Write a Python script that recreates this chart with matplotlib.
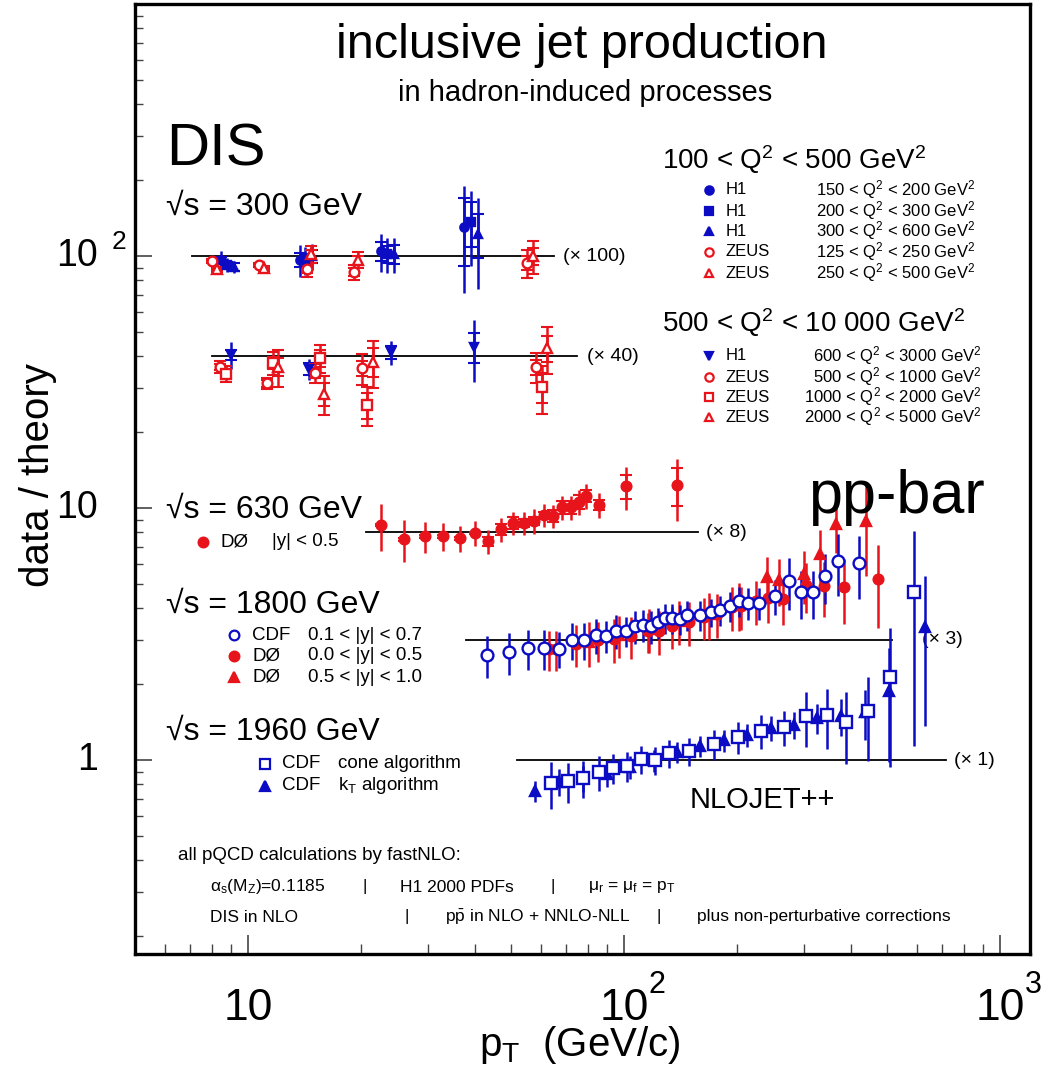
import matplotlib
matplotlib.use("Agg")
import matplotlib.pyplot as plt
from matplotlib.transforms import blended_transform_factory

plt.rcParams['font.family'] = ['Liberation Sans', 'DejaVu Sans']
plt.rcParams['mathtext.fontset'] = 'custom'
plt.rcParams['mathtext.rm'] = 'Liberation Sans'
plt.rcParams['mathtext.it'] = 'Liberation Sans:italic'
plt.rcParams['mathtext.default'] = 'regular'

BLUE = '#0c0cc4'
RED = '#e8141c'

# ---- DIS, sqrt(s) = 300 GeV, 100 < Q2 < 500 (x 100) ----
h1_q150_pt = [8.48, 13.7, 22.6, 37.5]
h1_q150_r = [96.4, 96.4, 104.7, 130.4]
h1_q150_err = [8, 14, 18, 59]
h1_q150_stat = [3, 6, 9, 39]

h1_q200_pt = [8.79, 14.2, 23.4, 39.2]
h1_q200_r = [92.1, 96.4, 101.9, 136.4]
h1_q200_err = [6, 12, 16, 45]
h1_q200_stat = [3, 5, 8, 28]

h1_q300_pt = [9.18, 14.8, 24.4, 40.9]
h1_q300_r = [90.4, 100, 101.9, 122.3]
h1_q300_err = [5, 12, 16, 48]
h1_q300_stat = [3, 6, 9, 24]

zeus_q125_pt = [8.0, 10.7, 14.3, 19.1, 55.2]
zeus_q125_r = [95.6, 92.1, 88.8, 86.4, 93.8]
zeus_q125_err = [2, 2, 6, 6, 12]
zeus_q125_stat = [1, 1, 3, 3, 6]

zeus_q250_pt = [8.27, 11.0, 14.7, 19.6, 57.3]
zeus_q250_r = [88.8, 89.6, 101.9, 96.4, 100]
zeus_q250_err = [2, 2, 8, 7, 15]
zeus_q250_stat = [1, 1, 4, 4, 8]

# ---- DIS, 500 < Q2 < 10000 (x 40) ----
h1_q600_pt = [9.01, 14.5, 24.0, 39.9]
h1_q600_r = [40.5, 35.6, 41.6, 43.5]
h1_q600_err = [5, 3.5, 4.5, 12]
h1_q600_stat = [2, 2, 2.5, 6]

zeus_q500_pt = [8.42, 11.2, 15.1, 20.1, 58.4]
zeus_q500_r = [36.3, 31.3, 34.3, 35.9, 36.3]
zeus_q500_err = [2, 1.5, 3, 5, 5]
zeus_q500_stat = [1, 1, 1.5, 2.5, 2.5]

zeus_q1000_pt = [8.74, 11.65, 15.5, 20.7, 60.5]
zeus_q1000_r = [34.0, 37.6, 39.4, 25.6, 30.2]
zeus_q1000_err = [2.5, 4, 5, 4.5, 6.5]
zeus_q1000_stat = [1.5, 2, 3, 3, 4]

zeus_q2000_pt = [12.0, 15.9, 21.5, 62.4]
zeus_q2000_r = [36.3, 28.3, 38.0, 43.1]
zeus_q2000_err = [6, 5, 8, 9]
zeus_q2000_stat = [3, 3, 5, 5]

# ---- ppbar, sqrt(s) = 630 GeV (x 8) ----
d0_630_pt = [22.6, 26.0, 29.6, 33.0, 36.6, 40.2, 43.5, 47.1, 50.7, 54.2,
             57.6, 61.2, 64.7, 68.4, 72.3, 75.9, 79.2, 85.8, 101.2, 138.4]
d0_630_r = [8.56, 7.53, 7.74, 7.74, 7.60, 7.96, 7.40, 8.25, 8.72, 8.72,
            8.88, 9.38, 9.30, 10.1, 10.1, 10.6, 11.2, 10.3, 12.2, 12.3]
d0_630_err = [1.8, 1.4, 1.1, 1.0, 0.9, 0.9, 0.8, 0.9, 0.9, 0.9,
              1.0, 1.0, 1.0, 1.1, 1.1, 1.2, 1.3, 1.2, 2.4, 3.4]
d0_630_stat = [0.1, 0.1, 0.1, 0.1, 0.1, 0.1, 0.3, 0.4, 0.5, 0.3,
               0.3, 0.3, 0.5, 0.6, 0.6, 0.7, 0.6, 0.5, 1.3, 2.1]

# ---- ppbar, sqrt(s) = 1800 GeV (x 3) ----
cdf_1800_pt = [43.2, 49.4, 55.5, 61.3, 67.2, 72.7, 78.3, 84.2, 89.5, 95.2,
               101.2, 107, 112.3, 118, 123.1, 128.5, 134.2, 141, 147.1, 159.3,
               170.4, 180, 191.4, 202.3, 213.7, 228.6, 252.2, 274.7, 295.6, 318.3,
               342.4, 370.8, 421.7]
cdf_1800_r = [2.61, 2.68, 2.78, 2.78, 2.76, 2.99, 2.99, 3.13, 3.11, 3.25,
              3.25, 3.40, 3.43, 3.40, 3.53, 3.66, 3.66, 3.63, 3.76, 3.76,
              3.87, 3.94, 4.08, 4.28, 4.20, 4.20, 4.48, 5.13, 4.64, 4.64,
              5.37, 6.16, 6.05]
cdf_1800_err = [0.5, 0.5, 0.5, 0.5, 0.45, 0.5, 0.5, 0.5, 0.45, 0.5,
                0.45, 0.5, 0.5, 0.5, 0.5, 0.5, 0.5, 0.5, 0.5, 0.5,
                0.5, 0.55, 0.55, 0.6, 0.6, 0.6, 0.7, 1.2, 1.0, 1.0,
                1.2, 1.7, 1.7]

d0c_1800_pt = [63.2, 65.9, 74.5, 85.3, 94.1, 104.4, 115.8, 123.9, 134.2, 148.9,
               163.2, 176.7, 193.7, 204.7, 224.4, 241.5, 264.8, 304.8, 340.4, 384.6,
               473.7]
d0c_1800_r = [2.76, 2.76, 2.89, 2.99, 3.02, 3.11, 3.25, 3.25, 3.40, 3.53,
              3.69, 3.80, 4.05, 4.08, 4.28, 4.39, 4.35, 4.95, 4.90, 4.86,
              5.23]
d0c_1800_err = [0.5, 0.5, 0.55, 0.55, 0.6, 0.6, 0.6, 0.65, 0.65, 0.7,
                0.7, 0.75, 0.8, 0.8, 0.85, 0.9, 0.9, 1.1, 1.2, 1.4,
                1.9]

d0f_1800_pt = [80.7, 97, 116.6, 140, 168.3, 202.3, 240, 258.3, 301, 332, 366.3, 440]
d0f_1800_r = [2.94, 3.13, 3.31, 3.56, 3.80, 4.16, 5.32, 5.18, 5.47, 6.57, 8.64, 8.88]
d0f_1800_err = [0.6, 0.6, 0.65, 0.7, 0.8, 0.9, 1.1, 1.1, 1.3, 1.6, 2.0, 3.5]

# ---- ppbar, sqrt(s) = 1960 GeV (x 1) ----
cdf_cone_pt = [64.0, 71.0, 77.8, 85.8, 93.5, 101.9, 111, 120.9, 131.8, 148.9,
               173.5, 201.1, 231.4, 266.4, 304.8, 346.7, 389.4, 445.7, 509.8, 590.5]
cdf_cone_r = [0.810, 0.825, 0.848, 0.896, 0.930, 0.947, 1.01, 1.0, 1.066, 1.086,
              1.157, 1.234, 1.304, 1.352, 1.495, 1.509, 1.415, 1.565, 2.135, 4.64]
cdf_cone_err = [0.17, 0.15, 0.14, 0.14, 0.13, 0.13, 0.13, 0.13, 0.14, 0.14,
                0.16, 0.18, 0.2, 0.22, 0.37, 0.4, 0.45, 0.57, 1.2, 3.5]

cdf_kt_pt = [58.0, 67.2, 77.8, 90.1, 103.7, 120.2, 138.4, 159.3, 184.5, 212.4,
             246, 283.2, 326.1, 377.6, 437.5, 506.8, 631.8]
cdf_kt_r = [0.753, 0.818, 0.848, 0.880, 0.938, 1.0, 1.076, 1.137, 1.20, 1.256,
            1.34, 1.377, 1.468, 1.495, 1.55, 1.88, 3.37]
cdf_kt_err = [0.07, 0.1, 0.1, 0.1, 0.1, 0.1, 0.1, 0.11, 0.12, 0.13,
              0.15, 0.17, 0.2, 0.25, 0.35, 0.9, 2.0]

# theory reference lines: scale factor, pT range
ref_scale = [100, 40, 8, 3, 1]
ref_lo = [7.1, 8.0, 20.6, 38, 52]
ref_hi = [65, 75, 157, 516, 718]
ref_text = ['(× 100)', '(× 40)', '(× 8)', '(× 3)', '(× 1)']
ref_gap = [1.06, 1.06, 1.05, 1.2, 1.05]

W, H = 1056, 1075
fig = plt.figure(figsize=(W / 100, H / 100), dpi=100)
ax = fig.add_axes([135 / W, 1 - 954 / H, (1030 - 135) / W, (954 - 4) / H])
ax.set_xscale('log')
ax.set_yscale('log')
ax.set_xlim(5, 1200)
ax.set_ylim(0.17, 1000)


def fx(px):
    return px / W


def fy(py):
    return 1 - py / H


def label(px, py, s, size, **kw):
    fig.text(fx(px), fy(py), s, fontsize=size, va='center', **kw)


def series(x, y, err, color, marker, filled=True, stat=None, ms=7, caps=False):
    ax.errorbar(x, y, yerr=err, fmt='none', ecolor=color, elinewidth=1.8,
                capsize=4 if caps else 0, capthick=1.5, zorder=3)
    if stat is not None:
        ax.errorbar(x, y, yerr=stat, fmt='none', ecolor=color, elinewidth=1.8,
                    capsize=4, capthick=1.5, zorder=3)
    ax.plot(x, y, linestyle='none', marker=marker, ms=ms,
            mfc=color if filled else 'white', mec=color, mew=1.7, zorder=4)


def key(px, py, marker, color, filled, ms=7):
    ax.plot([fx(px)], [fy(py)], transform=fig.transFigure, linestyle='none',
            marker=marker, ms=ms, mfc=color if filled else 'white', mec=color,
            mew=1.6, clip_on=False)


# reference lines
for s, lo, hi, t, g in zip(ref_scale, ref_lo, ref_hi, ref_text, ref_gap):
    ax.plot([lo, hi], [s, s], color='black', lw=1.3, zorder=2)
    ax.text(hi * g, s, t, fontsize=14, va='center', ha='left')

# DIS data
series(h1_q150_pt, h1_q150_r, h1_q150_err, BLUE, 'o', stat=h1_q150_stat, ms=6)
series(h1_q200_pt, h1_q200_r, h1_q200_err, BLUE, 's', stat=h1_q200_stat, ms=6)
series(h1_q300_pt, h1_q300_r, h1_q300_err, BLUE, '^', stat=h1_q300_stat, ms=6)
series(zeus_q125_pt, zeus_q125_r, zeus_q125_err, RED, 'o', filled=False, stat=zeus_q125_stat, ms=7, caps=True)
series(zeus_q250_pt, zeus_q250_r, zeus_q250_err, RED, '^', filled=False, stat=zeus_q250_stat, ms=7, caps=True)
series(h1_q600_pt, h1_q600_r, h1_q600_err, BLUE, 'v', stat=h1_q600_stat, ms=6)
series(zeus_q500_pt, zeus_q500_r, zeus_q500_err, RED, 'o', filled=False, stat=zeus_q500_stat, ms=7, caps=True)
series(zeus_q1000_pt, zeus_q1000_r, zeus_q1000_err, RED, 's', filled=False, stat=zeus_q1000_stat, ms=7, caps=True)
series(zeus_q2000_pt, zeus_q2000_r, zeus_q2000_err, RED, '^', filled=False, stat=zeus_q2000_stat, ms=7, caps=True)

# ppbar data
series(d0_630_pt, d0_630_r, d0_630_err, RED, 'o', stat=d0_630_stat, ms=7)
series(d0f_1800_pt, d0f_1800_r, d0f_1800_err, RED, '^', ms=7)
series(d0c_1800_pt, d0c_1800_r, d0c_1800_err, RED, 'o', ms=7)
series(cdf_1800_pt, cdf_1800_r, cdf_1800_err, BLUE, 'o', filled=False, ms=8.5)
series(cdf_kt_pt, cdf_kt_r, cdf_kt_err, BLUE, '^', ms=7)
series(cdf_cone_pt, cdf_cone_r, cdf_cone_err, BLUE, 's', filled=False, ms=8.5)

# axes styling
for sp in ax.spines.values():
    sp.set_linewidth(2.4)
ax.tick_params(which='both', direction='in', top=False, right=False,
               labelbottom=False, labelleft=False, color='#444444')
ax.tick_params(axis='x', which='major', length=14, width=1.2)
ax.tick_params(axis='x', which='minor', length=7, width=1.0)
ax.tick_params(axis='y', which='major', length=12, width=1.2)
ax.tick_params(axis='y', which='minor', length=6, width=1.0)

bx = blended_transform_factory(ax.transData, ax.transAxes)
by = blended_transform_factory(ax.transAxes, ax.transData)
for v in [10, 100, 1000]:
    ax.text(v, -0.057, '10', transform=bx, fontsize=32, ha='center', va='center')
ax.text(100 * 1.16, -0.033, '2', transform=bx, fontsize=22, ha='left', va='center')
ax.text(1000 * 1.16, -0.033, '3', transform=bx, fontsize=22, ha='left', va='center')
for v, t in [(1, '1'), (10, '10'), (100, '10')]:
    ax.text(-0.041, v, t, transform=by, fontsize=27, ha='right', va='center')
ax.text(-0.026, 114, '2', transform=by, fontsize=19, ha='left', va='center')

label(582, 45, 'inclusive jet production', 35, ha='center')
label(585, 93, 'in hadron-induced processes', 21, ha='center')
label(580, 1045, 'p$_T$  (GeV/c)', 29, ha='center')
fig.text(fx(38), fy(475), 'data / theory', fontsize=29, rotation=90,
         ha='center', va='center')

label(166, 150, 'DIS', 43)
label(808, 497, 'pp-bar', 44)
label(690, 800, 'NLOJET++', 21)

label(166, 207, '√s = 300 GeV', 23)
label(166, 510, '√s = 630 GeV', 23)
label(166, 605, '√s = 1800 GeV', 23)
label(166, 732, '√s = 1960 GeV', 23)

# DIS legend
label(662, 160, '100 < Q$^2$ < 500 GeV$^2$', 20)
dis1 = [('o', BLUE, True, 'H1', '150 < Q$^2$ < 200 GeV$^2$'),
        ('s', BLUE, True, 'H1', '200 < Q$^2$ < 300 GeV$^2$'),
        ('^', BLUE, True, 'H1', '300 < Q$^2$ < 600 GeV$^2$'),
        ('o', RED, False, 'ZEUS', '125 < Q$^2$ < 250 GeV$^2$'),
        ('^', RED, False, 'ZEUS', '250 < Q$^2$ < 500 GeV$^2$')]
for (m, c, f, name, rng), yy in zip(dis1, [190, 211, 231, 252, 273]):
    key(709, yy, m, c, f, ms=6)
    label(726, yy, name, 12)
    label(975, yy, rng, 12, ha='right')

label(662, 323, '500 < Q$^2$ < 10 000 GeV$^2$', 20)
dis2 = [('v', BLUE, True, 'H1', '600 < Q$^2$ < 3000 GeV$^2$'),
        ('o', RED, False, 'ZEUS', '500 < Q$^2$ < 1000 GeV$^2$'),
        ('s', RED, False, 'ZEUS', '1000 < Q$^2$ < 2000 GeV$^2$'),
        ('^', RED, False, 'ZEUS', '2000 < Q$^2$ < 5000 GeV$^2$')]
for (m, c, f, name, rng), yy in zip(dis2, [356, 377, 397, 417]):
    key(709, yy, m, c, f, ms=6)
    label(726, yy, name, 12)
    label(982, yy, rng, 12, ha='right')

# ppbar legends
key(203, 542, 'o', RED, True)
label(221, 542, 'DØ', 13.5)
label(272, 542, '|y| < 0.5', 13.5)

pp1800 = [('o', BLUE, False, 'CDF', '0.1 < |y| < 0.7'),
          ('o', RED, True, 'DØ', '0.0 < |y| < 0.5'),
          ('^', RED, True, 'DØ', '0.5 < |y| < 1.0')]
for (m, c, f, name, rng), yy in zip(pp1800, [635, 656, 677]):
    key(234, yy, m, c, f)
    label(252, yy, name, 13.5)
    label(308, yy, rng, 13.5)

pp1960 = [('s', BLUE, False, 'CDF', 'cone algorithm'),
          ('^', BLUE, True, 'CDF', 'k$_T$ algorithm')]
for (m, c, f, name, rng), yy in zip(pp1960, [764, 786]):
    key(265, yy, m, c, f)
    label(282, yy, name, 13.5)
    label(338, yy, rng, 13.5)

# calculation notes
label(178, 856, 'all pQCD calculations by fastNLO:', 13.5)
label(210, 887, 'α$_s$(M$_Z$)=0.1185', 12.5)
label(362, 887, '|', 12.5)
label(400, 887, 'H1 2000 PDFs', 12.5)
label(551, 887, '|', 12.5)
label(588, 887, 'μ$_r$ = μ$_f$ = p$_T$', 12.5)
label(210, 917, 'DIS in NLO', 12.5)
label(405, 917, '|', 12.5)
label(445, 917, r'p$\bar{\mathrm{p}}$ in NLO + NNLO-NLL', 12.5)
label(656, 917, '|', 12.5)
label(697, 917, 'plus non-perturbative corrections', 12.5)

fig.savefig('out.png', dpi=100)
